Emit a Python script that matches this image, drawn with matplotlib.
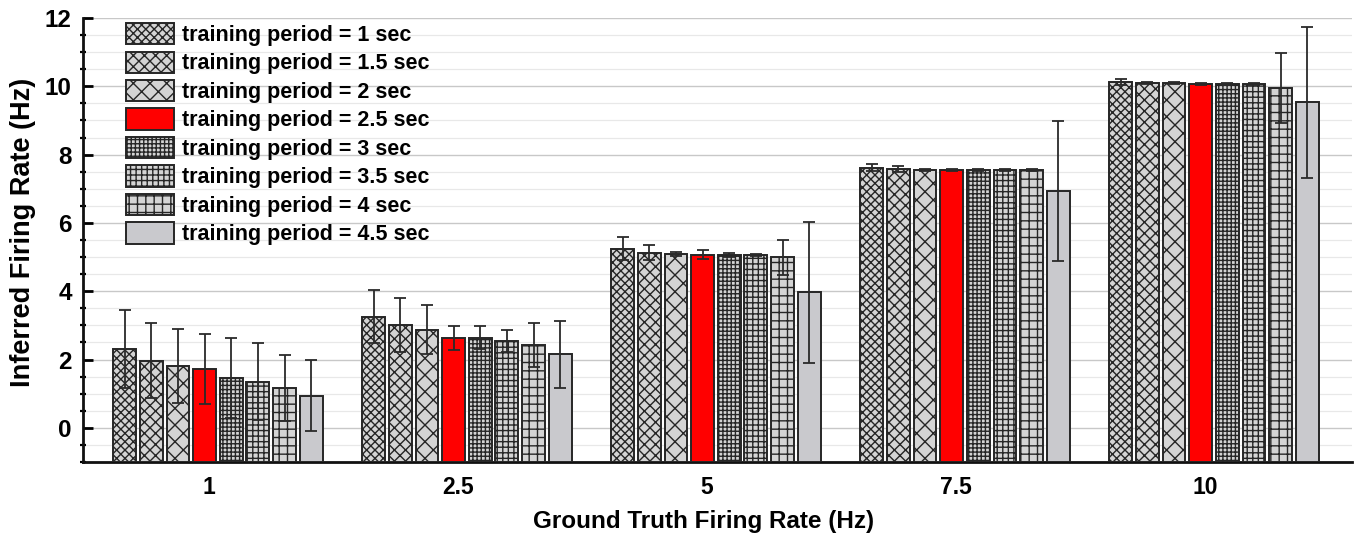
import numpy as np
import matplotlib
matplotlib.use("Agg")
import matplotlib.pyplot as plt
from matplotlib.ticker import MultipleLocator
from matplotlib.transforms import ScaledTranslation

plt.rcParams["font.family"] = ["Liberation Sans", "DejaVu Sans"]
plt.rcParams["font.weight"] = "bold"
plt.rcParams["hatch.linewidth"] = 1.0

# Ground-truth firing rates (x categories)
categories = ["1", "2.5", "5", "7.5", "10"]
periods = ["1", "1.5", "2", "2.5", "3", "3.5", "4", "4.5"]

# Mean inferred firing rate per training period, one list per period
means_1_0 = [2.31, 3.25, 5.25, 7.62, 10.13]
means_1_5 = [1.96, 3.01, 5.13, 7.58, 10.10]
means_2_0 = [1.81, 2.87, 5.09, 7.54, 10.10]
means_2_5 = [1.73, 2.62, 5.07, 7.54, 10.08]
means_3_0 = [1.46, 2.64, 5.06, 7.54, 10.08]
means_3_5 = [1.35, 2.55, 5.05, 7.54, 10.08]
means_4_0 = [1.16, 2.43, 4.99, 7.54, 9.95]
means_4_5 = [0.94, 2.16, 3.97, 6.94, 9.53]

# Standard deviations
std_1_0 = [1.13, 0.78, 0.33, 0.10, 0.08]
std_1_5 = [1.10, 0.80, 0.22, 0.08, 0.04]
std_2_0 = [1.08, 0.72, 0.06, 0.03, 0.04]
std_2_5 = [1.03, 0.35, 0.13, 0.03, 0.03]
std_3_0 = [1.17, 0.33, 0.05, 0.03, 0.03]
std_3_5 = [1.13, 0.32, 0.03, 0.03, 0.03]
std_4_0 = [0.97, 0.64, 0.50, 0.03, 1.02]
std_4_5 = [1.04, 0.98, 2.06, 2.05, 2.20]

means = [means_1_0, means_1_5, means_2_0, means_2_5,
         means_3_0, means_3_5, means_4_0, means_4_5]
stds = [std_1_0, std_1_5, std_2_0, std_2_5,
        std_3_0, std_3_5, std_4_0, std_4_5]

hatches = ["xxxx", "xxx", "xx", None, "++++", "+++", "++", None]
fills = ["#d4d4d4", "#d4d4d4", "#d4d4d4", "#ff0000",
         "#d4d4d4", "#d4d4d4", "#d4d4d4", "#c9c9cd"]

baseline = -1.0
pitch = 0.107
width = 0.092

fig = plt.figure(figsize=(13.67, 5.34), dpi=100)
ax = fig.add_axes([0.0607, 0.1348, 0.9283, 0.8315])

x = np.arange(len(categories))
for i, (m, s) in enumerate(zip(means, stds)):
    pos = x + (i - 3.5) * pitch
    m = np.asarray(m)
    ax.bar(pos, m - baseline, bottom=baseline, width=width,
           color=fills[i], edgecolor="#262626", linewidth=1.4,
           hatch=hatches[i], zorder=3,
           label=f"training period = {periods[i]} sec")
    ax.errorbar(pos, m, yerr=s, fmt="none", ecolor="#2a2a2a",
                elinewidth=1.3, capsize=4, capthick=1.3, zorder=4)

ax.set_xlim(-0.542, 4.554)
ax.set_ylim(-1, 12)
ax.set_xticks(x)
ax.set_xticklabels(categories)
ax.yaxis.set_major_locator(MultipleLocator(2))
ax.yaxis.set_minor_locator(MultipleLocator(0.5))
ax.set_yticks(np.arange(0, 13, 2))

ax.grid(axis="y", which="major", color="#c8c8c8", linewidth=1.0, zorder=0)
ax.grid(axis="y", which="minor", color="#e8e8e8", linewidth=0.9, zorder=0)

for side in ("top", "right"):
    ax.spines[side].set_visible(False)
for side in ("left", "bottom"):
    ax.spines[side].set_linewidth(2.0)
    ax.spines[side].set_color("#111111")

ax.tick_params(axis="x", length=0, labelsize=16.5, pad=10)
ax.tick_params(axis="y", which="major", direction="in", length=7, width=2,
               labelsize=17.5, pad=8)
ax.tick_params(axis="y", which="minor", direction="inout", length=5, width=1.6)

# category labels sit slightly left of the group centres
shift = ScaledTranslation(-9 / 100, 0, fig.dpi_scale_trans)
for lab in ax.get_xticklabels():
    lab.set_transform(lab.get_transform() + shift)

ax.set_xlabel("Ground Truth Firing Rate (Hz)", fontsize=17.5, fontweight="bold")
ax.xaxis.set_label_coords(0.489, -0.108)
ax.set_ylabel("Inferred Firing Rate (Hz)", fontsize=19.5, fontweight="bold")
ax.yaxis.set_label_coords(-0.037, 0.518)

leg = ax.legend(loc="upper left", bbox_to_anchor=(0.0275, 1.008), frameon=False,
                fontsize=15.5, handlelength=2.2, handleheight=1.15,
                handletextpad=0.38, labelspacing=0.255, borderaxespad=0.0)
for t in leg.get_texts():
    t.set_fontweight("bold")

fig.savefig("out.png", dpi=100)
